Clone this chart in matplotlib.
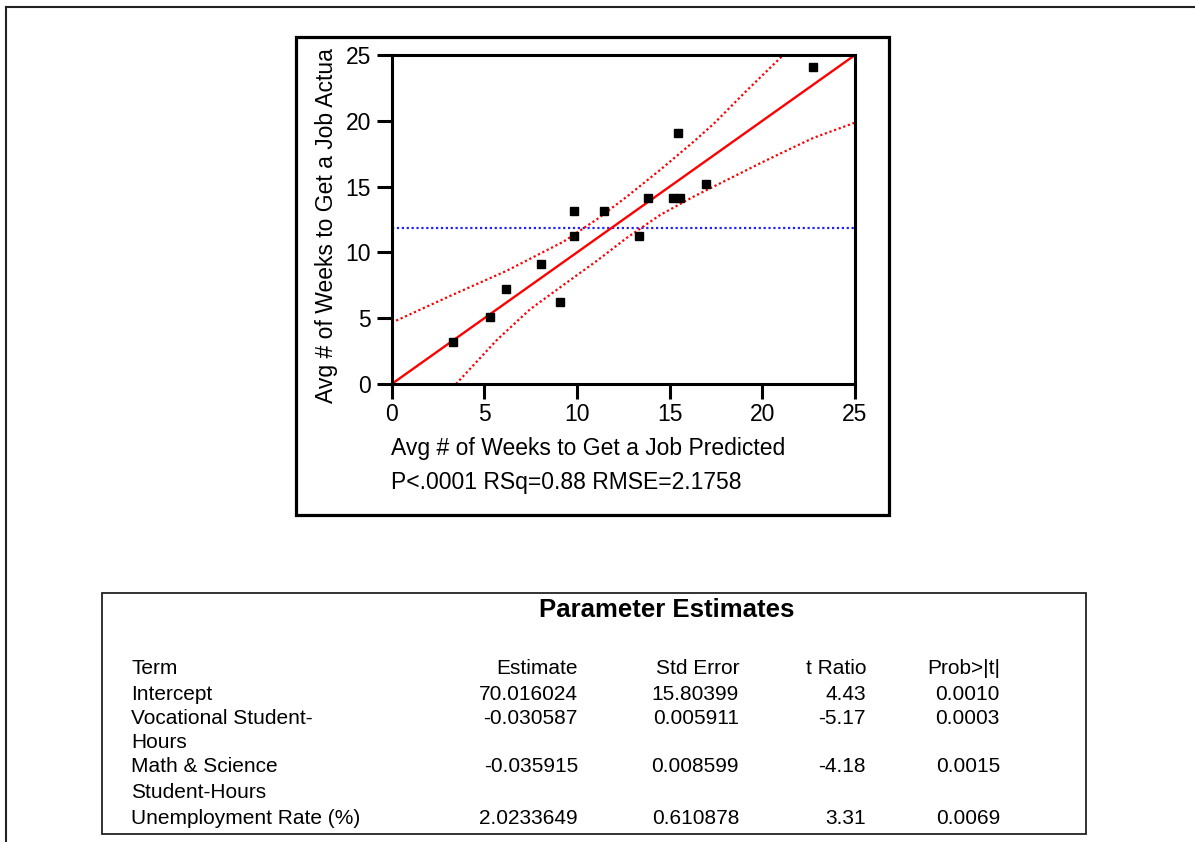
import matplotlib
matplotlib.use("Agg")
import matplotlib.pyplot as plt
from matplotlib.patches import Rectangle
from matplotlib.lines import Line2D

plt.rcParams['font.family'] = ['Liberation Sans', 'DejaVu Sans']

# Points: predicted vs actual average weeks to get a job
predicted = [3.31, 5.30, 6.18, 8.07, 9.07, 9.82, 9.82, 11.46, 13.33, 13.83,
             15.20, 15.57, 15.47, 16.96, 22.72]
actual = [3.19, 5.11, 7.20, 9.12, 6.23, 13.15, 11.22, 13.15, 11.22, 14.11,
          14.11, 14.11, 19.10, 15.22, 24.09]

# fit line (actual = predicted) and mean of actual
fit_slope = 1.0
fit_intercept = 0.0
fit_x = [0, 25]
mean_actual = 11.85

# confidence curves
upper_x = [0, 3.15, 6.2, 9.26, 11.06, 12.68, 14.48, 16.28, 17.36, 19.16, 21.13]
upper_y = [4.66, 6.69, 8.6, 10.81, 12.50, 14.23, 16.26, 18.40, 19.75, 22.30, 25.0]
lower_x = [3.47, 5.67, 7.46, 9.26, 11.06, 12.68, 14.48, 16.28, 18.08, 19.88, 20.95, 22.75, 25]
lower_y = [0.0, 3.34, 5.67, 7.52, 9.35, 11.10, 12.84, 14.23, 15.50, 16.77, 17.50, 18.70, 19.86]

# parameter estimates table
terms = ["Intercept", "Vocational Student-\nHours", "Math & Science\nStudent-Hours",
         "Unemployment Rate (%)"]
estimates = ["70.016024", "-0.030587", "-0.035915", "2.0233649"]
std_errors = ["15.80399", "0.005911", "0.008599", "0.610878"]
t_ratios = ["4.43", "-5.17", "-4.18", "3.31"]
probs = ["0.0010", "0.0003", "0.0015", "0.0069"]
headers = ["Term", "Estimate", "Std Error", "t Ratio", "Prob>|t|"]

W, H = 1195, 842
fig = plt.figure(figsize=(W / 100, H / 100), dpi=100)


def fx(px):
    return px / W


def fy(py):
    return 1 - py / H


# outer frame (only top and left show)
fig.add_artist(Line2D([fx(6), fx(6)], [fy(7), fy(842)], color='#222222', lw=1.5))
fig.add_artist(Line2D([fx(6), fx(1195)], [fy(7), fy(7)], color='#222222', lw=1.5))

# frame around the plot
fig.add_artist(Rectangle((fx(296), fy(515)), fx(889) - fx(296), fy(37) - fy(515),
                         fill=False, ec='black', lw=2.3, transform=fig.transFigure))

ax = fig.add_axes([fx(391.7), fy(384), fx(855) - fx(391.7), fy(55) - fy(384)])
ax.set_xlim(0, 25)
ax.set_ylim(0, 25)

ax.axhline(mean_actual, color='#2222ff', lw=1.6, ls=(0, (1, 1.2)))
ax.plot(fit_x, [fit_slope * v + fit_intercept for v in fit_x], color='red', lw=1.7)
ax.plot(upper_x, upper_y, color='red', lw=1.6, ls=(0, (1, 1.2)))
ax.plot(lower_x, lower_y, color='red', lw=1.6, ls=(0, (1, 1.2)))
ax.plot(predicted, actual, 's', color='black', markersize=5.5, zorder=5)

ax.set_xticks([0, 5, 10, 15, 20, 25])
ax.set_yticks([0, 5, 10, 15, 20, 25])
ax.tick_params(direction='out', length=11, width=2.2, labelsize=16.5)
ax.tick_params(axis='x', pad=3)
ax.tick_params(axis='y', pad=4)
for s in ax.spines.values():
    s.set_linewidth(2.2)

fig.text(fx(391), fy(449), "Avg # of Weeks to Get a Job Predicted", fontsize=16.5,
         ha='left', va='center')
fig.text(fx(391), fy(483), "P<.0001 RSq=0.88 RMSE=2.1758", fontsize=16.5,
         ha='left', va='center')
fig.text(fx(327), fy(403), "Avg # of Weeks to Get a Job Actua", fontsize=16.5,
         rotation=90, rotation_mode='anchor', ha='left', va='center')

# table box
fig.add_artist(Rectangle((fx(101.5), fy(834)), fx(1086) - fx(101.5), fy(593) - fy(834),
                         fill=False, ec='#222222', lw=1.3, transform=fig.transFigure))
fig.text(fx(667), fy(610), "Parameter Estimates", fontsize=18.5, fontweight='bold',
         ha='center', va='center')

fs = 15
col_x = [131, 578, 739, 866, 1000]
col_ha = ['left', 'right', 'right', 'right', 'right']
header_y = 667
for j in range(len(headers)):
    fig.text(fx(col_x[j]), fy(header_y), headers[j], fontsize=fs, ha=col_ha[j],
             va='center_baseline')

row_y = [692, 716, 765, 816]
for i in range(len(terms)):
    y = fy(row_y[i])
    lines = terms[i].split('\n')
    for k in range(len(lines)):
        fig.text(fx(131), fy(row_y[i] + 25 * k), lines[k], fontsize=fs, ha='left',
                 va='center_baseline')
    vals = [estimates[i], std_errors[i], t_ratios[i], probs[i]]
    for j in range(4):
        fig.text(fx(col_x[j + 1]), y, vals[j], fontsize=fs, ha='right', va='center_baseline')

fig.savefig("out.png", dpi=100)
